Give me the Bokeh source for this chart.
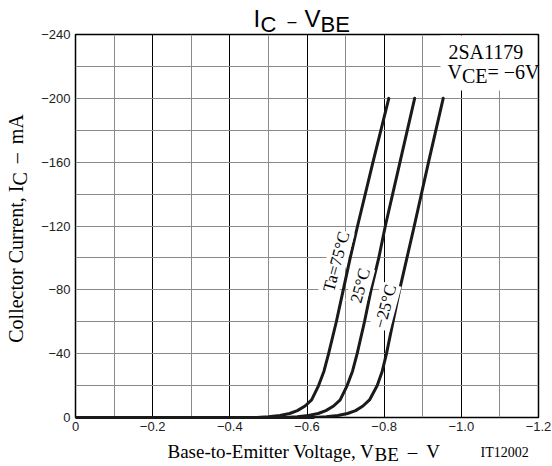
import math

from bokeh.plotting import figure
from bokeh.models import Range1d, FixedTicker, CustomJSTickFormatter, Label, BoxAnnotation
from bokeh.core.properties import value
from bokeh.embed import file_html
from bokeh.resources import INLINE

# Collector current vs. base-emitter voltage (2SA1179, VCE = -6 V), one pair per ambient temperature
ic_pts = [0, 0, -0.4, -1.2, -2.5, -4.3, -7.2, -11, -20, -29, -40, -60, -80, -100, -120, -160, -200]

vbe_75 = [0.0, -0.470, -0.500, -0.530, -0.555, -0.575, -0.595, -0.612, -0.630, -0.644, -0.656,
          -0.676, -0.694, -0.712, -0.731, -0.771, -0.812]
vbe_25 = [0.0, -0.545, -0.575, -0.604, -0.629, -0.649, -0.669, -0.686, -0.704, -0.718, -0.730,
          -0.749, -0.766, -0.786, -0.803, -0.841, -0.879]
vbe_m25 = [0.0, -0.620, -0.650, -0.680, -0.705, -0.726, -0.745, -0.762, -0.782, -0.795, -0.806,
           -0.823, -0.840, -0.859, -0.878, -0.915, -0.953]

curve_labels = ["Ta=75°C", "25°C", "\u221225°C"]

x_major = [0.0, -0.2, -0.4, -0.6, -0.8, -1.0, -1.2]
x_minor = [-0.1, -0.3, -0.5, -0.7, -0.9, -1.1]
y_major = [0, -40, -80, -120, -160, -200, -240]
y_grid = [0, -20, -40, -60, -80, -100, -120, -140, -160, -180, -200, -220, -240]

X0, X1 = 0.0, -1.2
Y0, Y1 = 0.0, -240.0

# frame placement on the 552 x 466 canvas
FL, FR, FT, FB = 75, 538, 34, 417

p = figure(
    width=552, height=466,
    frame_width=FR - FL, frame_height=FB - FT,
    min_border_left=FL, min_border_right=552 - FR,
    min_border_top=FT, min_border_bottom=466 - FB,
    x_range=Range1d(X0, X1), y_range=Range1d(Y0, Y1),
    output_backend="svg", toolbar_location=None,
)
p.background_fill_color = "white"
p.border_fill_color = "white"
p.outline_line_color = "black"
p.outline_line_width = 1.5


def dx(px):
    return X0 + (px - FL) / (FR - FL) * (X1 - X0)


def dy(py):
    return Y0 + (FB - py) / (FB - FT) * (Y1 - Y0)


# grid: black major verticals, grey minor verticals, grey horizontals
p.xgrid.ticker = FixedTicker(ticks=x_major, minor_ticks=x_minor)
p.xgrid.grid_line_color = "black"
p.xgrid.grid_line_width = 1
p.xgrid.minor_grid_line_color = "#8a8a8a"
p.xgrid.minor_grid_line_width = 1
p.ygrid.ticker = FixedTicker(ticks=y_grid)
p.ygrid.grid_line_color = "#8a8a8a"
p.ygrid.grid_line_width = 1

minus_fmt = CustomJSTickFormatter(code="""
    if (Math.abs(tick) < 1e-9) return "0";
    const a = Math.abs(tick);
    const s = (a < 10) ? a.toFixed(1) : a.toFixed(0);
    return "\\u2212" + s;
""")

for ax in (p.xaxis[0], p.yaxis[0]):
    ax.major_tick_line_color = None
    ax.minor_tick_line_color = None
    ax.major_tick_in = 0
    ax.major_tick_out = 0
    ax.minor_tick_in = 0
    ax.minor_tick_out = 0
    ax.major_label_text_font = "Liberation Sans"
    ax.major_label_text_font_size = "13px"
    ax.major_label_text_color = "#222222"
    ax.formatter = minus_fmt

p.xaxis.ticker = FixedTicker(ticks=x_major)
p.yaxis.ticker = FixedTicker(ticks=y_major)
p.xaxis.major_label_standoff = 4
p.yaxis.major_label_standoff = 5
p.yaxis.axis_line_color = None

# the three curves share the zero line; thicken it where all of them lie flat
flat_end = vbe_m25[1]
p.xaxis.axis_line_color = "#1a1a1a"
p.xaxis.axis_line_width = 3
p.xaxis.bounds = (X0, flat_end)

for xs in (vbe_75, vbe_25, vbe_m25):
    p.line(xs, ic_pts, line_color="#1a1a1a", line_width=3, line_join="round", line_cap="round")

# curve labels, set along the curves
label_pos = [(-0.676, -97.7), (-0.738, -82.7), (-0.803, -69.5)]
for (lx, ly), txt in zip(label_pos, curve_labels):
    p.add_layout(Label(
        x=lx, y=ly, text=txt, angle=math.radians(75),
        text_align="center", text_baseline="middle",
        text_font="Liberation Serif", text_font_size="17px", text_color="black",
        background_fill_color="white", padding=1,
    ))

# plain area behind the part number block
p.add_layout(BoxAnnotation(
    left=dx(440), right=dx(535), top=dy(35), bottom=dy(90),
    fill_color="white", fill_alpha=1.0, line_color=None,
))

TIMES = {' ': 0.25, ',': 0.25, '-': 0.333, '.': 0.25, '=': 0.564, '°': 0.4,
         '\u2212': 0.564, '–': 0.5, '\u2002': 0.5,
         'A': 0.722, 'B': 0.667, 'C': 0.667, 'E': 0.611, 'I': 0.333, 'S': 0.556,
         'T': 0.611, 'V': 0.722, 'a': 0.444, 'c': 0.444, 'e': 0.444, 'g': 0.5,
         'i': 0.278, 'l': 0.278, 'm': 0.778, 'n': 0.5, 'o': 0.5, 'r': 0.333,
         's': 0.389, 't': 0.278, 'u': 0.5}


def text_width(s, size):
    return sum(TIMES.get(ch, 0.5) for ch in s) * size


def put_text(txt, px, py, size, font="Liberation Serif", align="left", vertical=False):
    """Text whose alphabetic baseline is at pixel (px, py); placed by its middle line."""
    mid = 0.34 * size
    if vertical:
        x, y, ang = dx(px - mid), dy(py), math.pi / 2
    else:
        x, y, ang = dx(px), dy(py - mid), 0.0
    p.text(x=[x], y=[y], text=[txt], angle=ang,
           text_align=align, text_baseline="middle",
           text_font=value(font), text_font_size=value(f"{size}px"),
           text_color="black", level="overlay")


def put_subscripted(head, sub, tail, px, py, size, drop, gap, vertical=False):
    """head + subscript + tail pieces; head ends and subscript starts at the same anchor."""
    step = -1 if vertical else 1
    anchor = text_width(head, size)
    if vertical:
        put_text(head, px, py - anchor, size, align="right", vertical=True)
        put_text(sub, px + drop, py - anchor, size, vertical=True)
    else:
        put_text(head, px + anchor, py, size, align="right")
        put_text(sub, px + anchor, py + drop, size)
    pos = anchor + text_width(sub, size)
    for piece, g in zip(tail, gap):
        pos += g
        if vertical:
            put_text(piece, px, py - pos, size, vertical=True)
        else:
            put_text(piece, px + pos, py, size)
        pos += text_width(piece, size)
    return pos


# title (sans serif, with subscripts)
for txt, x0, base, size in (("I", 253, 26, 24), ("C", 260, 31, 22), ("–", 287, 26, 16),
                            ("V", 304, 26, 24), ("BE", 320, 31, 22)):
    put_text(txt, x0, base, size, font="Liberation Sans")

# part number and test condition
put_text("2SA1179", 448, 58, 20)
put_subscripted("V", "CE", ["=", "\u22126V"], 447, 78, 20, 4, [0, 5])

# axis titles
x_head, y_head = "Base-to-Emitter Voltage, V", "Collector Current, I"
x_len = text_width(x_head + "BE–V", 19) + 18
put_subscripted(x_head, "BE", ["–", "V"], 302 - x_len / 2, 457, 19, 3, [9, 9])

y_len = text_width(y_head + "C–mA", 20) + 18
put_subscripted(y_head, "C", ["–", "mA"], 22, 228 + y_len / 2, 20, 4, [9, 9], vertical=True)

put_text("IT12002", 480, 457, 14)

open("out.html", "w").write(file_html(p, INLINE))
